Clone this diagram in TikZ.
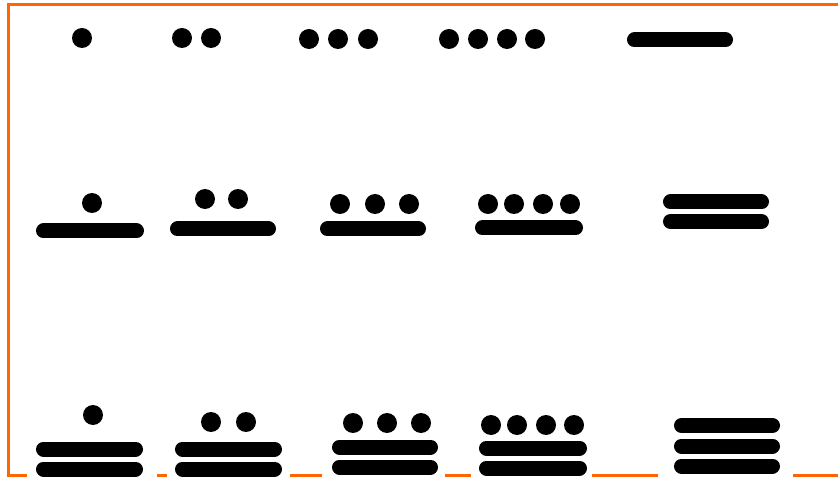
\documentclass[tikz,border=0pt]{standalone}
\definecolor{frameorange}{RGB}{255,102,0}
\tikzset{
  dotg/.style={fill=black},
  barg/.style={draw=black, line width=15pt, line cap=round},
  frameline/.style={draw=frameorange, line width=3pt}
}
\newcommand{\mdot}[2]{\fill[dotg] (#1,#2) circle (10);}
\newcommand{\mbar}[3]{\draw[barg] ({#1+7.5},#3) -- ({#2-7.5},#3);}
\begin{document}
\begin{tikzpicture}[x=1pt,y=-1pt]
\useasboundingbox (0,0) rectangle (838,478);
% frame
\draw[frameline] (8.5,475.5) -- (8.5,4.5) -- (838,4.5);
\draw[frameline] (7,475.5) -- (27,475.5);
\draw[frameline] (157,475.5) -- (167,475.5);
\draw[frameline] (290,475.5) -- (322,475.5);
\draw[frameline] (445,475.5) -- (471,475.5);
\draw[frameline] (592,475.5) -- (658,475.5);
\draw[frameline] (793,475.5) -- (838,475.5);
% row 1
\mdot{82}{38}
\mdot{182}{38}\mdot{211}{38}
\mdot{309}{39}\mdot{338}{39}\mdot{368}{39}
\mdot{449}{39}\mdot{478}{39}\mdot{507}{39}\mdot{535}{39}
\mbar{627}{733}{40}
% row 2
\mdot{92}{203}
\mbar{36}{144}{231}
\mdot{205}{199}\mdot{238}{199}
\mbar{170}{276}{229}
\mdot{340}{204}\mdot{375}{204}\mdot{409}{204}
\mbar{320}{426}{229}
\mdot{488}{204}\mdot{514}{204}\mdot{543}{204}\mdot{570}{204}
\mbar{475}{583}{228}
\mbar{663}{769}{202}
\mbar{663}{769}{221.5}
% row 3
\mdot{93}{415}
\mbar{36}{143}{449}
\mbar{36}{143}{469}
\mdot{211}{422}\mdot{246}{422}
\mbar{175}{282}{449}
\mbar{175}{282}{469}
\mdot{353}{423}\mdot{387}{423}\mdot{421}{423}
\mbar{332}{438}{447}
\mbar{332}{438}{467}
\mdot{491}{425}\mdot{517}{425}\mdot{546}{425}\mdot{574}{425}
\mbar{479}{587}{448}
\mbar{479}{587}{468}
\mbar{674}{780}{425.5}
\mbar{674}{780}{446}
\mbar{674}{780}{466}
\end{tikzpicture}
\end{document}
